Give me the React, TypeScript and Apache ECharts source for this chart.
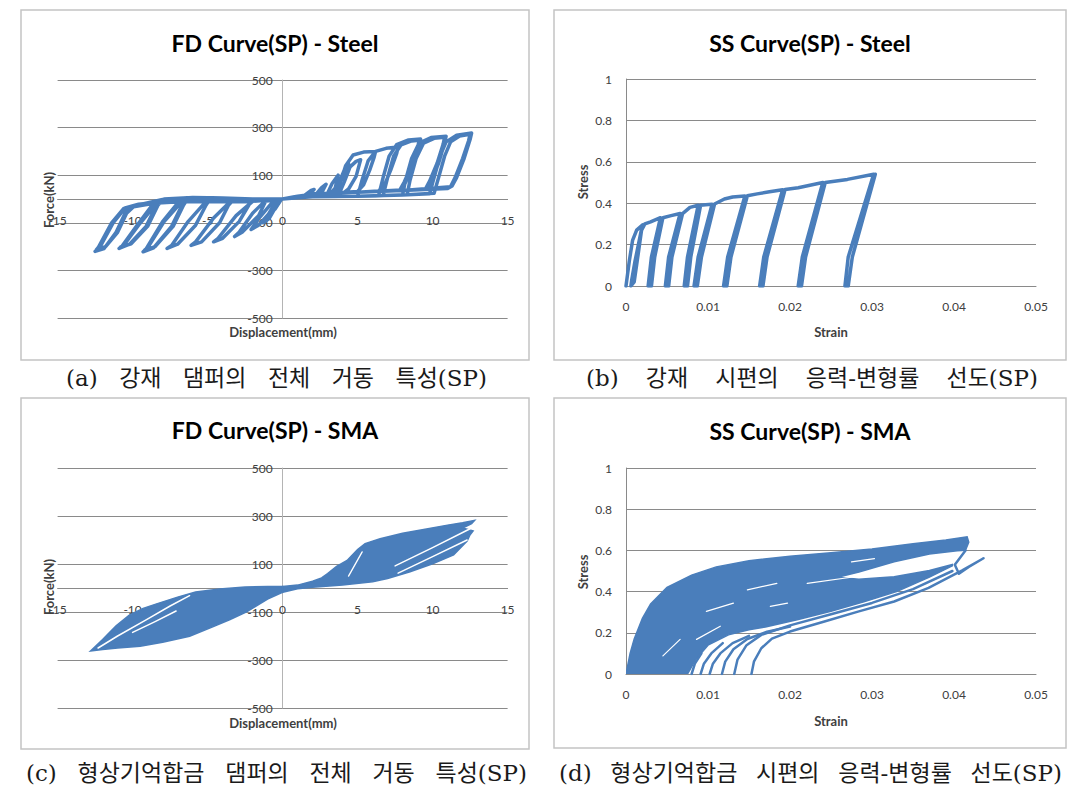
import React, { useEffect, useRef } from 'react';
import * as echarts from 'echarts';

const BLUE = '#4A7EBB';
const GRID = '#8A8A8A';
const LABEL = '#404040';

// ---------- titles / labels ----------
const titles = ['FD Curve(SP) - Steel', 'SS Curve(SP) - Steel', 'FD Curve(SP) - SMA', 'SS Curve(SP) - SMA'];
// caption words (kept in order; spread across the caption width like the justified source text)
const captionWords = [
  ['(a)', '강재', '댐퍼의', '전체', '거동', '특성(SP)'],
  ['(b)', '강재', '시편의', '응력-변형률', '선도(SP)'],
  ['(c)', '형상기억합금', '댐퍼의', '전체', '거동', '특성(SP)'],
  ['(d)', '형상기억합금', '시편의', '응력-변형률', '선도(SP)'],
];
const xNames = ['Displacement(mm)', 'Strain', 'Displacement(mm)', 'Strain'];
const yNames = ['Force(kN)', 'Stress', 'Force(kN)', 'Stress'];

// ---------- (a) steel damper force-displacement [mm, kN] ----------
const fdSteel = [
  [0,0],[1.3,8],[1.9,36],[2.1,40],[1.8,18],[0.8,10],[0,0],[-0.3,-10],[-0.7,-50],[-0.8,-60],[-0.5,-42],[-0.1,-3],[0,0],
  [1,5],[2.1,10],[2.6,48],[2.9,62],[2.6,26],[1.5,16],[0,0],[-0.4,-6],[-1.0,-70],[-1.3,-100],[-0.9,-82],[-0.2,-6],[0,0],
  [1,5],[2,9],[2.9,11],[3.3,65],[3.7,100],[3.5,45],[3.2,24],[2,20],[1,12],[0,0],[-0.6,-8],[-1.5,-75],[-2.1,-128],[-1.6,-110],[-0.6,-40],[-0.3,-2],[0,0],
  [1,5],[2,9],[3.5,11],[3.9,90],[4.2,135],[4.4,148],[4.1,70],[3.8,27],[2,20],[1,12],[0,0],[-1.2,-10],[-2.0,-60],[-2.9,-140],[-3.2,-158],[-2.7,-140],[-1.6,-70],[-1.1,-5],[0,0],
  [1,5],[2,9],[3.7,11],[4.1,70],[4.5,135],[4.9,158],[5.2,165],[4.9,95],[4.4,42],[4.1,28],[2,20],[1,12],[0,0],[-2,-10],[-3.1,-70],[-4.3,-165],[-4.6,-180],[-4.0,-165],[-2.9,-95],[-2.2,-20],[-1.8,0],[0,0],
  [1,5],[2,9],[3.5,11],[3.8,60],[4.2,140],[4.7,185],[5.4,197],[6.2,200],[6.1,175],[5.8,120],[5.4,60],[5.0,32],[2,20],[1,12],[0,0],[-2,-10],[-3.5,-12],[-4.6,-80],[-5.8,-180],[-6.1,-195],[-5.4,-180],[-4.2,-100],[-3.6,-25],[-3.2,2],[-2,0],[0,0],
  [1,5],[2,9],[5,12],[5.3,80],[5.7,160],[6.2,200],[6.9,213],[7.7,218],[7.6,190],[7.2,120],[6.8,60],[6.4,34],[5,28],[2,20],[1,12],[0,0],[-2,-10],[-4,-12],[-5.1,-10],[-6.3,-95],[-7.4,-195],[-7.7,-208],[-7.0,-190],[-5.8,-110],[-5.1,-25],[-4.8,3],[-2,0],[0,0],
  [1,5],[2,9],[5,12],[6.4,14],[6.7,90],[7.1,180],[7.6,228],[8.4,248],[9.2,252],[9.1,220],[8.7,140],[8.2,70],[7.9,38],[5,28],[2,20],[1,12],[0,0],[-2,-10],[-4,-12],[-6,-8],[-6.7,-10],[-7.9,-95],[-9.0,-205],[-9.3,-222],[-8.6,-205],[-7.4,-115],[-6.7,-25],[-6.4,5],[-4,4],[-2,0],[0,0],
  [1,5],[2,9],[5,12],[6.7,14],[7.0,90],[7.4,180],[7.9,228],[8.6,244],[9.1,247],[9.0,215],[8.6,140],[8.1,70],[7.8,36],[5,28],[2,20],[1,12],[0,0],[-2,-10],[-4,-12],[-6.9,-10],[-8.0,-95],[-9.1,-210],[-9.2,-215],[-8.5,-200],[-7.3,-115],[-6.6,-25],[-6.3,4],[-4,4],[-2,0],[0,0],
  [1,5],[2,9],[5,12],[8,17],[8.2,80],[8.6,170],[9.1,235],[9.9,258],[10.9,264],[10.8,235],[10.4,150],[9.9,75],[9.6,42],[8,36],[5,28],[2,20],[1,12],[0,0],[-2,-10],[-4,-12],[-6,-8],[-8,-12],[-8.4,-18],[-9.6,-110],[-10.6,-195],[-10.9,-208],[-10.2,-190],[-9.1,-115],[-8.4,-25],[-8,-2],[-6,6],[-4,4],[-2,0],[0,0],
  [1,5],[2,9],[5,12],[8.3,18],[8.5,80],[8.9,170],[9.4,235],[10.1,255],[10.8,259],[10.7,230],[10.3,150],[9.8,75],[9.5,40],[8,36],[5,28],[2,20],[1,12],[0,0],[-2,-10],[-4,-12],[-6,-8],[-8.6,-18],[-9.7,-110],[-10.7,-198],[-10.8,-202],[-10.1,-188],[-9.0,-115],[-8.3,-25],[-7.9,0],[-6,6],[-4,4],[-2,0],[0,0],
  [1,5],[2,9],[5,12],[8,17],[9.8,22],[10.1,90],[10.5,180],[10.9,240],[11.6,268],[12.6,277],[12.5,250],[12.1,170],[11.6,90],[11.3,55],[11,44],[8,36],[5,28],[2,20],[1,12],[0,0],[-2,-10],[-4,-12],[-6,-8],[-8,-12],[-9.6,-22],[-10.5,-38],[-11.3,-100],[-12.2,-205],[-12.5,-220],[-11.9,-208],[-11.1,-140],[-10.5,-60],[-10.0,-30],[-8,-2],[-6,6],[-4,4],[-2,0],[0,0],
  [1,5],[2,9],[5,12],[8,17],[10.1,24],[10.4,90],[10.8,180],[11.2,240],[11.8,265],[12.5,272],[12.4,245],[12.0,170],[11.5,90],[11.2,52],[8,36],[5,28],[2,20],[1,12],[0,0],[-2,-10],[-4,-12],[-6,-8],[-8,-12],[-10.6,-40],[-11.4,-100],[-12.3,-205],[-12.4,-212],[-11.8,-200],[-11.0,-140],[-10.4,-60],[-9.9,-30],[-8,-2],[-6,6],[-4,4],[-2,0],[0,0],
];

// ---------- (b) steel coupon stress-strain ----------
const ssSteel = [
  [0,0],[0.0004,0.12],[0.0008,0.22],[0.0013,0.27],[0.002,0.295],
  [0.0011,0.12],[0.0007,0.03],[0.0006,0],[0.0010,0.02],[0.0014,0.13],[0.0019,0.27],[0.0023,0.30],
  [0.003,0.31],[0.0042,0.33],
  [0.0031,0.14],[0.0027,0],[0.0031,0],[0.0035,0.14],[0.0045,0.33],
  [0.0055,0.34],[0.0066,0.35],
  [0.0052,0.14],[0.0048,0],[0.0052,0],[0.0056,0.14],[0.0069,0.35],
  [0.0078,0.38],[0.0088,0.39],
  [0.0075,0.14],[0.0071,0],[0.0075,0],[0.0079,0.14],[0.0091,0.39],
  [0.0097,0.393],[0.0105,0.395],
  [0.0088,0.14],[0.0083,0],[0.0087,0],[0.0092,0.14],[0.0108,0.396],
  [0.012,0.42],[0.013,0.43],[0.0145,0.435],
  [0.0124,0.14],[0.0119,0],[0.0123,0],[0.0128,0.14],[0.0148,0.436],
  [0.016,0.445],[0.0175,0.455],[0.0191,0.465],
  [0.0168,0.14],[0.0163,0],[0.0167,0],[0.0172,0.14],[0.0194,0.466],
  [0.021,0.475],[0.024,0.50],
  [0.0215,0.14],[0.021,0],[0.0214,0],[0.0219,0.14],[0.0243,0.50],
  [0.027,0.515],[0.0302,0.54],
  [0.0271,0.14],[0.0267,0],[0.0271,0],[0.0276,0.14],[0.0304,0.54],
];

// ---------- (c) SMA damper force-displacement ----------
const fdSmaPosFill = [
  [0,6],[1,12],[2,28],[2.6,42],[3,60],[3.6,90],[4.3,115],[5.0,160],[5.5,185],[6.5,205],[8,228],[9.5,245],[11,262],[12,272],[12.8,282],
  [12.6,268],[12.0,250],[12.7,238],[12.5,222],[12.3,196],[11.4,138],[10,101],[8.5,68],[7,40],[6,26],[4,12],[2,3],[1,-3],[0,-18],
];
const fdSmaNegFill = [
  [0,6],[-1,6],[-2.5,4],[-4.2,-4],[-5.8,-17],[-7,-38],[-8.4,-66],[-9.3,-85],[-10.2,-112],[-11.1,-158],[-12,-215],[-12.8,-262],
  [-12,-256],[-11,-250],[-9.5,-243],[-8,-226],[-6.2,-201],[-4.7,-163],[-3.5,-131],[-2.4,-99],[-1,-46],[0,-18],
];
const fdSmaGapA = [[7.5,92],[10,168],[12.5,247]];
const fdSmaGapB = [[7.7,62],[10,131],[12.3,200]];
const fdSmaGapC = [[4.4,50],[5.3,150]];
const fdSmaGapD = [[-12.3,-250],[-11,-200],[-9.1,-133],[-7.5,-75],[-6.2,-32]];
const fdSmaGapE = [[-10,-185],[-8.5,-140],[-7.1,-96]];

// ---------- (d) SMA coupon stress-strain ----------
const ssSmaFill = [
  [0,0],[0.0005,0.1],[0.001,0.17],[0.002,0.27],[0.003,0.34],[0.005,0.42],[0.008,0.48],[0.011,0.52],[0.015,0.55],[0.02,0.572],
  [0.025,0.588],[0.03,0.607],[0.035,0.632],[0.039,0.65],[0.0416,0.666],[0.0418,0.64],[0.0414,0.60],
  [0.0404,0.598],[0.037,0.582],[0.0327,0.545],[0.0284,0.495],[0.0258,0.47],[0.0284,0.46],[0.0327,0.472],[0.037,0.502],[0.0398,0.532],
  [0.0398,0.525],[0.037,0.47],[0.033,0.40],[0.029,0.35],[0.025,0.305],[0.021,0.265],[0.017,0.228],[0.015,0.215],[0.0125,0.19],[0.010,0.14],[0.0085,0.07],[0.0075,0],
];
const ssSmaCurve1 = [[0.0153,0],[0.0156,0.06],[0.0165,0.125],[0.0178,0.172],[0.02,0.206],[0.0242,0.255],[0.0284,0.304],[0.0327,0.352],[0.0369,0.418],[0.041,0.503],[0.0436,0.562],[0.0418,0.52],[0.0406,0.487],[0.0401,0.53],[0.0414,0.60]];
const ssSmaCurve2 = [[0.0132,0],[0.0136,0.07],[0.0147,0.14],[0.0165,0.19],[0.02,0.236],[0.025,0.29],[0.03,0.345],[0.035,0.412],[0.0398,0.5]];
const ssSmaCurve3 = [[0.0117,0],[0.0121,0.06],[0.0131,0.12],[0.0148,0.17],[0.0172,0.205],[0.02,0.23]];
const ssSmaCurve4 = [[0.0102,0],[0.0106,0.05],[0.0115,0.1],[0.013,0.15],[0.015,0.185]];
const ssSmaCurve5 = [[0.0091,0],[0.0095,0.05],[0.0104,0.1],[0.0118,0.15]];
const ssSmaCurve6 = [[0.008,0],[0.0084,0.05],[0.0092,0.1]];
const ssSmaGap1 = [[0.0148,0.408],[0.0184,0.44]];
const ssSmaGap2 = [[0.0098,0.304],[0.0131,0.344]];
const ssSmaGap3 = [[0.0176,0.328],[0.0197,0.344]];
const ssSmaGap4 = [[0.0221,0.44],[0.0279,0.472]];
const ssSmaGap5 = [[0.0275,0.544],[0.0303,0.56]];
const ssSmaGap6 = [[0.0086,0.168],[0.0115,0.232]];
const ssSmaGap7 = [[0.0045,0.088],[0.0066,0.168]];

// ---------- layout ----------
const grids = [
  { left: 57.6, top: 80, width: 450, height: 238 },
  { left: 626, top: 79, width: 410, height: 207 },
  { left: 57.6, top: 468, width: 450, height: 240 },
  { left: 626, top: 468, width: 410, height: 206 },
];
const frames = [
  { x: 21, y: 10, width: 508, height: 350 },
  { x: 554, y: 10, width: 512, height: 350 },
  { x: 21, y: 398, width: 508, height: 351 },
  { x: 554, y: 398, width: 512, height: 350 },
];
const titlePos = [[275, 43], [810, 43], [275, 430], [810, 431]];
const xNamePos = [[283, 332], [831, 332], [283, 723], [831, 721]];
const yNamePos = [[49, 200], [583, 182], [49, 587], [583, 572]];
const captionY = [378, 378, 773, 773];
const captionSpan = [[66, 487], [586, 1038], [26, 527], [559, 1062]];
const CAPTION_FONT_FAMILY = "'DejaVu Serif', 'Noto Sans CJK KR', serif";
const CAPTION_SIZE = 23;

const labelStyle = { fontFamily: 'Lato', fontSize: 12, color: LABEL };

// FD axes cross at zero: offsets move line + labels from the grid edge to the zero position
const fdX = (gi: number, offset: number) => ({
  gridIndex: gi, type: 'value', min: -15, max: 15, interval: 5, position: 'bottom', offset,
  axisLine: { show: true, onZero: false, lineStyle: { color: GRID, width: 1 } },
  axisTick: { show: false }, splitLine: { show: false },
  axisLabel: { ...labelStyle, margin: 15 },
});
const fdY = (gi: number, offset: number) => ({
  gridIndex: gi, type: 'value', min: -500, max: 500, interval: 100, position: 'left', offset,
  axisLine: { show: true, onZero: false, lineStyle: { color: '#B4B4B4', width: 1 } },
  axisTick: { show: false },
  splitLine: { show: true, lineStyle: { color: [GRID, 'rgba(0,0,0,0)'], width: 1 } },
  axisLabel: { ...labelStyle, margin: 10, formatter: (v: number) => (Math.round(v / 100) % 2 !== 0 ? String(v) : '') },
});
const ssX = (gi: number) => ({
  gridIndex: gi, type: 'value', min: 0, max: 0.05, interval: 0.01,
  axisLine: { show: true, lineStyle: { color: GRID, width: 1 } },
  axisTick: { show: false }, splitLine: { show: false },
  axisLabel: { ...labelStyle, margin: 14, formatter: (v: number) => String(Number(v.toFixed(2))) },
});
const ssY = (gi: number) => ({
  gridIndex: gi, type: 'value', min: 0, max: 1, interval: 0.2,
  axisLine: { show: true, lineStyle: { color: GRID, width: 1 } },
  axisTick: { show: false },
  splitLine: { show: true, lineStyle: { color: GRID, width: 1 } },
  axisLabel: { ...labelStyle, margin: 14, formatter: (v: number) => String(Number(v.toFixed(1))) },
});

const lineSeries = (data: number[][], gi: number, width: number, color = BLUE, z = 3) => ({
  type: 'line', xAxisIndex: gi, yAxisIndex: gi, data, showSymbol: false, symbol: 'none',
  lineStyle: { color, width, join: 'round', cap: 'round' }, silent: true, z, clip: true,
});
const polySeries = (pts: number[][], gi: number) => ({
  type: 'custom', xAxisIndex: gi, yAxisIndex: gi, coordinateSystem: 'cartesian2d',
  data: pts, encode: { x: 0, y: 1 }, silent: true, z: 2, clip: true,
  renderItem: (params: any, api: any) =>
    params.dataIndex === 0
      ? { type: 'polygon', shape: { points: pts.map((p) => api.coord(p)) }, style: { fill: BLUE, stroke: BLUE, lineWidth: 1.5 } }
      : null,
});

function measureWidths(words: string[]): number[] {
  const ctx = document.createElement('canvas').getContext('2d');
  if (!ctx) return words.map((w) => w.length * CAPTION_SIZE);
  ctx.font = `${CAPTION_SIZE}px ${CAPTION_FONT_FAMILY}`;
  return words.map((w) => ctx.measureText(w).width);
}

function buildOption() {
  const graphic: any[] = [];
  frames.forEach((f) => graphic.push({ type: 'rect', shape: f, style: { fill: 'none', stroke: '#C4C4C4', lineWidth: 1.5 }, z: 0 }));
  const txt = (t: string, x: number, y: number, font: any, extra: any = {}, align = 'center') => ({
    type: 'text', x, y, ...extra,
    style: { text: t, ...font, align, verticalAlign: 'middle', textAlign: align, textVerticalAlign: 'middle' },
  });
  titles.forEach((t, i) => graphic.push(txt(t, titlePos[i][0], titlePos[i][1], { fontFamily: 'Lato', fontWeight: 'bold', fontSize: 23, fill: '#000' })));
  xNames.forEach((t, i) => graphic.push(txt(t, xNamePos[i][0], xNamePos[i][1], { fontFamily: 'Lato', fontWeight: 'bold', fontSize: 13, fill: LABEL })));
  yNames.forEach((t, i) => graphic.push(txt(t, yNamePos[i][0], yNamePos[i][1], { fontFamily: 'Lato', fontWeight: 'bold', fontSize: 13, fill: LABEL }, { rotation: Math.PI / 2 })));
  captionWords.forEach((words, i) => {
    const widths = measureWidths(words);
    const [L, R] = captionSpan[i];
    const total = widths.reduce((a, b) => a + b, 0);
    const gap = Math.max(6, (R - L - total) / (words.length - 1));
    let x = L;
    words.forEach((w, j) => {
      graphic.push(txt(w, x, captionY[i], { fontFamily: CAPTION_FONT_FAMILY, fontSize: CAPTION_SIZE, fill: '#1A1A1A' }, {}, 'left'));
      x += widths[j] + gap;
    });
  });

  const series: any[] = [
    lineSeries(fdSteel, 0, 3.5),
    lineSeries(ssSteel, 1, 3.5),
    polySeries(fdSmaPosFill, 2),
    polySeries(fdSmaNegFill, 2),
    ...[fdSmaGapA, fdSmaGapB, fdSmaGapC, fdSmaGapD, fdSmaGapE].map((g) => lineSeries(g, 2, 1.5, '#FFFFFF', 4)),
    polySeries(ssSmaFill, 3),
    ...[ssSmaCurve1, ssSmaCurve2, ssSmaCurve3, ssSmaCurve4, ssSmaCurve5, ssSmaCurve6].map((c) => lineSeries(c, 3, 2.5)),
    ...[ssSmaGap1, ssSmaGap2, ssSmaGap3, ssSmaGap4, ssSmaGap5, ssSmaGap6, ssSmaGap7].map((g) => lineSeries(g, 3, 1.2, '#FFFFFF', 4)),
  ];

  return {
    animation: false,
    grid: grids.map((g) => ({ ...g, containLabel: false })),
    xAxis: [fdX(0, -119), ssX(1), fdX(2, -120), ssX(3)],
    yAxis: [fdY(0, -225), ssY(1), fdY(2, -225), ssY(3)],
    graphic,
    series,
  };
}

export default function App() {
  const ref = useRef<HTMLDivElement>(null);
  useEffect(() => {
    document.body.style.margin = '0';
    const chart = echarts.init(ref.current as HTMLDivElement, null, { renderer: 'svg' });
    chart.setOption(buildOption() as any);
    return () => chart.dispose();
  }, []);
  return <div ref={ref} style={{ width: 1089, height: 789, background: '#fff' }} />;
}
